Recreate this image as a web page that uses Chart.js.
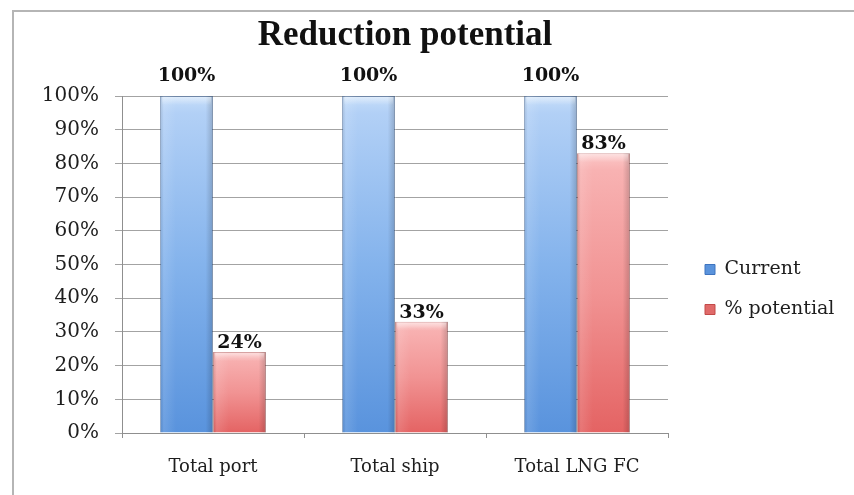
<!DOCTYPE html>
<html>
<head>
<meta charset="utf-8">
<script src="https://cdn.jsdelivr.net/npm/chart.js@4/dist/chart.umd.min.js"></script>
<style>
  html, body { margin: 0; padding: 0; background: #ffffff; }
  #wrap { width: 854px; height: 495px; position: relative; }
</style>
</head>
<body>
<div id="wrap"><canvas id="chart" width="854" height="495"></canvas></div>
<script>
// ---- data ----
const chartTitle = 'Reduction potential';
const categories = ['Total port', 'Total ship', 'Total LNG FC'];
const seriesNames = ['Current', '% potential'];
const currentValues = [100, 100, 100];
const potentialValues = [24, 33, 83];
const yAxisMax = 100;
const yAxisStep = 10;

// ---- styles ----
const SERIF = "'DejaVu Serif', 'Liberation Serif', serif";
const TEXT = '#1e1e1e';
const GRID = '#a3a3a3';
const AXIS = '#8f8f8f';
const blueStops = [[0, '#c6def9'], [0.05, '#b2d0f6'], [0.5, '#84b3ec'], [1, '#5993dd']];
const redStops = [[0, '#fcc8c8'], [0.06, '#f8b2b2'], [0.5, '#f19393'], [1, '#e46363']];
const legendSwatch = ['#5a93dc', '#e06a69'];

function verticalFill(stops, fallback) {
  return (ctx) => {
    const chart = ctx.chart;
    const y = chart.scales && chart.scales.y;
    if (!chart.chartArea || !y || ctx.type !== 'data') return fallback;
    const v = ctx.raw;
    const top = y.getPixelForValue(v);
    const base = y.getPixelForValue(0);
    if (!isFinite(top) || !isFinite(base) || top === base) return fallback;
    const g = chart.ctx.createLinearGradient(0, top, 0, base);
    stops.forEach(([o, c]) => g.addColorStop(o, c));
    return g;
  };
}

// white page with the light grey chart frame
const framePlugin = {
  id: 'frame',
  beforeDraw(chart) {
    const c = chart.ctx;
    c.save();
    c.fillStyle = '#ffffff';
    c.fillRect(0, 0, chart.width, chart.height);
    c.strokeStyle = '#b5b5b5';
    c.lineWidth = 2;
    c.strokeRect(13, 11, chart.width + 20, chart.height + 20);
    c.restore();
  }
};

// fixed-size legend box to the right of the plot; title centred over the frame
const boxPlacement = {
  id: 'boxPlacement',
  beforeUpdate(chart) {
    const lg = chart.legend;
    if (lg && !lg.__fixed) {
      const fit = lg.fit.bind(lg);
      lg.fit = function () { fit(); this.width = 186; };
      lg.__fixed = true;
    }
  },
  afterLayout(chart) {
    const lg = chart.legend;
    if (lg) {
      const w = lg.width, h = lg.height;
      lg.left = 684; lg.right = 684 + w;
      lg.top = 239; lg.bottom = 239 + h;
    }
    const tb = chart.titleBlock;
    if (tb) {
      tb.left = 0;
      tb.right = 810;
      tb.width = 810;
    }
  }
};

// bevel shading on the bars and the value labels above them
const barDecor = {
  id: 'barDecor',
  afterDatasetsDraw(chart) {
    const c = chart.ctx;
    c.save();
    chart.data.datasets.forEach((ds, di) => {
      const meta = chart.getDatasetMeta(di);
      meta.data.forEach((bar) => {
        const { x, y, base, width } = bar.getProps(['x', 'y', 'base', 'width'], true);
        const l = x - width / 2;
        const h = base - y;
        const g = c.createLinearGradient(l, 0, l + width, 0);
        g.addColorStop(0, 'rgba(0,0,0,0.10)');
        g.addColorStop(0.07, 'rgba(255,255,255,0.12)');
        g.addColorStop(0.3, 'rgba(255,255,255,0)');
        g.addColorStop(0.86, 'rgba(0,0,0,0)');
        g.addColorStop(1, 'rgba(0,0,0,0.18)');
        c.fillStyle = g;
        c.fillRect(l, y, width, h);
        const t = c.createLinearGradient(0, y, 0, y + 9);
        t.addColorStop(0, 'rgba(255,255,255,0.5)');
        t.addColorStop(1, 'rgba(255,255,255,0)');
        c.fillStyle = t;
        c.fillRect(l + 2, y + 1, width - 4, 9);
      });
    });
    c.font = "bold 19px " + SERIF;
    c.fillStyle = '#111111';
    c.textAlign = 'center';
    c.textBaseline = 'alphabetic';
    chart.data.datasets.forEach((ds, di) => {
      const meta = chart.getDatasetMeta(di);
      meta.data.forEach((bar, i) => {
        const v = ds.data[i];
        const gap = v >= yAxisMax ? 15 : 4;
        c.fillText(v + '%', bar.x, bar.y - gap);
      });
    });
    c.restore();
  }
};

new Chart(document.getElementById('chart'), {
  type: 'bar',
  data: {
    labels: categories,
    datasets: [
      {
        label: seriesNames[0],
        data: currentValues,
        backgroundColor: verticalFill(blueStops, '#7aabe8'),
        borderColor: 'rgba(60,105,170,0.5)',
        borderWidth: 1,
        borderSkipped: 'bottom',
        categoryPercentage: 0.582,
        barPercentage: 1.0
      },
      {
        label: seriesNames[1],
        data: potentialValues,
        backgroundColor: verticalFill(redStops, '#f08c8c'),
        borderColor: 'rgba(175,70,70,0.5)',
        borderWidth: 1,
        borderSkipped: 'bottom',
        categoryPercentage: 0.582,
        barPercentage: 1.0
      }
    ]
  },
  options: {
    responsive: false,
    devicePixelRatio: 1,
    animation: false,
    layout: { padding: { left: 0, right: 0, top: 0, bottom: 0 } },
    plugins: {
      title: {
        display: true,
        text: chartTitle,
        color: '#111111',
        font: { family: "'Liberation Serif', serif", size: 35, weight: 'bold', lineHeight: 1.2 },
        padding: { top: 15, bottom: 39 }
      },
      legend: {
        position: 'right',
        align: 'start',
        labels: {
          color: TEXT,
          font: { family: SERIF, size: 19 },
          boxWidth: 10,
          boxHeight: 10,
          padding: 21,
          generateLabels(chart) {
            return chart.data.datasets.map((ds, i) => ({
              text: ds.label,
              fillStyle: legendSwatch[i],
              strokeStyle: i === 0 ? '#3f74bf' : '#c24a49',
              lineWidth: 1,
              hidden: false,
              datasetIndex: i,
              fontColor: TEXT
            }));
          }
        }
      },
      tooltip: { enabled: false }
    },
    scales: {
      x: {
        offset: true,
        grid: {
          offset: true,
          drawOnChartArea: false,
          drawTicks: true,
          tickLength: 5,
          color: AXIS
        },
        border: { display: true, color: AXIS, width: 1 },
        ticks: {
          color: TEXT,
          font: { family: SERIF, size: 18 },
          padding: 19,
          maxRotation: 0
        },
        afterFit(scale) { scale.height = 62; }
      },
      y: {
        min: 0,
        max: yAxisMax,
        grid: {
          color: GRID,
          lineWidth: 1,
          drawTicks: true,
          tickLength: 7
        },
        border: { display: true, color: AXIS, width: 1 },
        ticks: {
          stepSize: yAxisStep,
          color: TEXT,
          font: { family: SERIF, size: 20 },
          padding: 16,
          callback: (v) => v + '%'
        },
        afterFit(scale) { scale.width = 122; }
      }
    }
  },
  plugins: [framePlugin, boxPlacement, barDecor]
});
</script>
</body>
</html>
